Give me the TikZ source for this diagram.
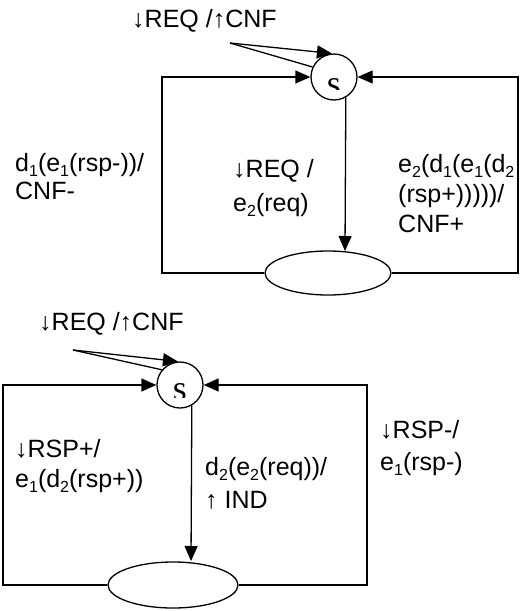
\documentclass[tikz,border=0pt]{standalone}
\usepackage{fontspec}
\setmainfont{Liberation Sans}
\newfontfamily\statefont{Liberation Serif}
\usetikzlibrary{arrows.meta,shapes.geometric}

% lowered index as in the transition labels
\newcommand\lowidx[1]{\raisebox{-0.2em}{\fontsize{16}{16}\selectfont #1}}

\begin{document}
\begin{tikzpicture}[x=1pt,y=-1pt,
  lbl/.style={anchor=base west, inner sep=0pt, font=\fontsize{25}{30}\selectfont},
  state/.style={circle, draw, line width=1.3pt, minimum size=46pt, inner sep=0pt},
  sink/.style={ellipse, draw, line width=1.3pt, minimum width=126pt, minimum height=44pt, inner sep=0pt},
  wire/.style={line width=1.3pt},
  arr/.style={wire, -{Triangle[length=15pt,width=13pt]}},
  slabel/.style={anchor=base, inner sep=0pt, font=\statefont\fontsize{36}{36}\selectfont}]
\useasboundingbox (0,0) rectangle (521,611);

% ---------------- upper machine ----------------
\node[state] (S1) at (334,77) {};
\node[sink] (E1) at (328,273) {};
\begin{scope}
  \clip (311,54) rectangle (357,89);
  \node[slabel] (s1) at (334,95) {s};
\end{scope}

\coordinate (L1x) at (162,0);
\coordinate (R1x) at (518,0);
\coordinate (v1) at (345,251);
\coordinate (i1) at (230,43);

\draw[arr] (E1.west) -- (E1.west -| L1x) |- (S1.west);
\draw[arr] (E1.east) -- (E1.east -| R1x) |- (S1.east);
\draw[arr] (S1.-60) -- (v1);
\draw[arr] (i1) -- (S1.95);
\draw[wire] (i1) -- (S1.155);

\node[lbl] (t1) at (132,27) {↓REQ /↑CNF};
\node[lbl] (a1) at (15,171) {d\lowidx{1}(e\lowidx{1}(rsp-))/};
\node[lbl] (a2) at (15,199) {CNF-};
\node[lbl] (b1) at (233,177) {↓REQ /};
\node[lbl] (b2) at (233,211) {e\lowidx{2}(req)};
\node[lbl] (c1) at (398,172) {e\lowidx{2}(d\lowidx{1}(e\lowidx{1}(d\lowidx{2}};
\node[lbl] (c2) at (398,202) {(rsp+)))))/};
\node[lbl] (c3) at (398,232) {CNF+};

% ---------------- lower machine ----------------
\node[state] (S2) at (180,385) {};
\node[sink, minimum width=130pt, minimum height=46pt] (E2) at (173,585) {};
\begin{scope}
  \clip (157,362) rectangle (203,397);
  \node[slabel] (s2) at (180,400) {s};
\end{scope}

\coordinate (L2x) at (3,0);
\coordinate (R2x) at (367,0);
\coordinate (v2) at (191,561);
\coordinate (i2) at (73,350);

\draw[arr] (E2.west) -- (E2.west -| L2x) |- (S2.west);
\draw[arr] (E2.east) -- (E2.east -| R2x) |- (S2.east);
\draw[arr] (S2.-60) -- (v2);
\draw[arr] (i2) -- (S2.95);
\draw[wire] (i2) -- (S2.140);

\node[lbl] (t2) at (39,330) {↓REQ /↑CNF};
\node[lbl] (p1) at (15,457) {↓RSP+/};
\node[lbl] (p2) at (15,487) {e\lowidx{1}(d\lowidx{2}(rsp+))};
\node[lbl] (q1) at (205,475) {d\lowidx{2}(e\lowidx{2}(req))/};
\node[lbl] (q2) at (205,508) {↑ IND};
\node[lbl] (r1) at (380,438) {↓RSP-/};
\node[lbl] (r2) at (380,470) {e\lowidx{1}(rsp-)};
\end{tikzpicture}
\end{document}
